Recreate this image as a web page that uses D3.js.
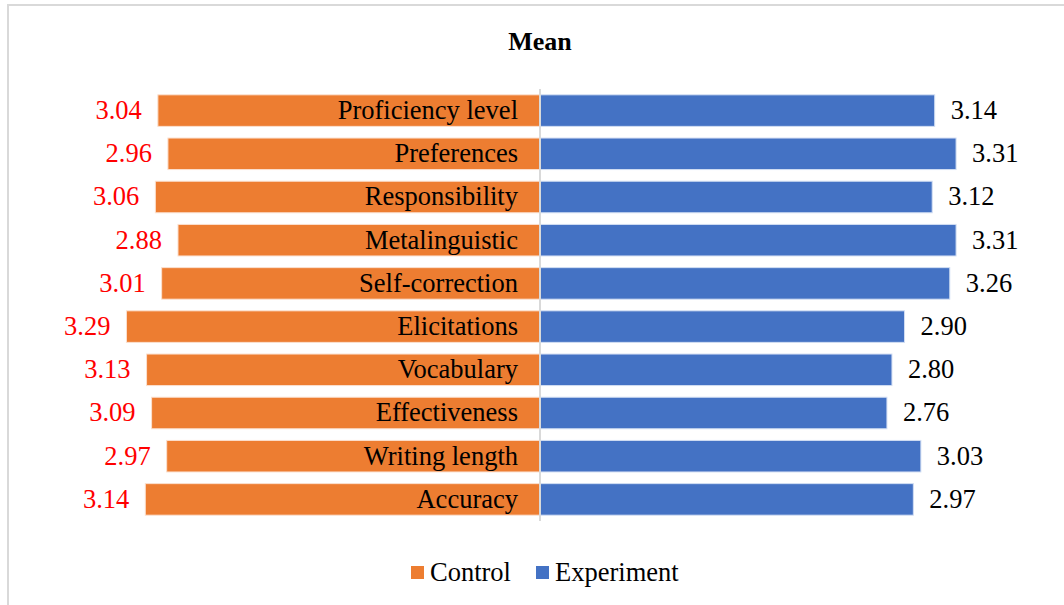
<!DOCTYPE html>
<html>
<head>
<meta charset="utf-8">
<script src="https://cdn.jsdelivr.net/npm/d3@7"></script>
<style>
  body { margin: 0; background: #fff; }
</style>
</head>
<body>
<div id="chart"></div>
<script>
const categories = ['Proficiency level', 'Preferences', 'Responsibility', 'Metalinguistic',
    'Self-correction', 'Elicitations', 'Vocabulary', 'Effectiveness', 'Writing length', 'Accuracy'];
const control = [3.04, 2.96, 3.06, 2.88, 3.01, 3.29, 3.13, 3.09, 2.97, 3.14];
const experiment = [3.14, 3.31, 3.12, 3.31, 3.26, 2.90, 2.80, 2.76, 3.03, 2.97];
const seriesNames = ['Control', 'Experiment'];
const colors = ['#ED7D31', '#4472C4'];

const width = 1064, height = 605;
const centerX = 540;
const pxPerUnit = 125.7;
const serif = "'Liberation Serif', 'Times New Roman', Times, serif";
const fontSize = 26.5;

const svg = d3.select('#chart')
    .append('svg')
    .attr('width', width)
    .attr('height', height)
    .attr('font-family', serif);

// chart frame
svg.append('rect')
    .attr('x', 8).attr('y', 5)
    .attr('width', width).attr('height', height)
    .attr('fill', 'none')
    .attr('stroke', '#d9d9d9')
    .attr('stroke-width', 2);

// title
svg.append('text')
    .attr('x', centerX)
    .attr('y', 50)
    .attr('text-anchor', 'middle')
    .attr('font-size', 26)
    .attr('font-weight', 'bold')
    .text('Mean');

// scales
const y = d3.scaleBand()
    .domain(categories)
    .range([89, 521])
    .paddingInner(0.27)
    .paddingOuter(0.135);

const xRight = d3.scaleLinear()
    .domain([0, 1])
    .range([centerX, centerX + pxPerUnit]);
const xLeft = d3.scaleLinear()
    .domain([0, 1])
    .range([centerX, centerX - pxPerUnit]);

const rows = categories.map((c, i) => ({ cat: c, ctrl: control[i], exp: experiment[i] }));

// control bars (left)
svg.selectAll('.bar-ctrl')
    .data(rows)
    .join('rect')
    .attr('class', 'bar-ctrl')
    .attr('x', d => xLeft(d.ctrl))
    .attr('y', d => y(d.cat))
    .attr('width', d => centerX - xLeft(d.ctrl))
    .attr('height', y.bandwidth())
    .attr('fill', colors[0])
    .attr('stroke', '#fbe0cf')
    .attr('stroke-width', 1);

// experiment bars (right)
svg.selectAll('.bar-exp')
    .data(rows)
    .join('rect')
    .attr('class', 'bar-exp')
    .attr('x', centerX)
    .attr('y', d => y(d.cat))
    .attr('width', d => xRight(d.exp) - centerX)
    .attr('height', y.bandwidth())
    .attr('fill', colors[1])
    .attr('stroke', '#d2def3')
    .attr('stroke-width', 1);

// center axis line
svg.append('line')
    .attr('x1', centerX).attr('x2', centerX)
    .attr('y1', 89).attr('y2', 521)
    .attr('stroke', '#d9d9d9')
    .attr('stroke-width', 2);

// category labels
svg.selectAll('.cat-label')
    .data(rows)
    .join('text')
    .attr('class', 'cat-label')
    .attr('x', centerX - 22)
    .attr('y', d => y(d.cat) + y.bandwidth() / 2)
    .attr('dy', '0.32em')
    .attr('text-anchor', 'end')
    .attr('font-size', fontSize)
    .attr('fill', '#000')
    .text(d => d.cat);

// value labels
svg.selectAll('.ctrl-label')
    .data(rows)
    .join('text')
    .attr('class', 'ctrl-label')
    .attr('x', d => xLeft(d.ctrl) - 16)
    .attr('y', d => y(d.cat) + y.bandwidth() / 2)
    .attr('dy', '0.32em')
    .attr('text-anchor', 'end')
    .attr('font-size', fontSize)
    .attr('fill', '#ff0000')
    .text(d => d.ctrl.toFixed(2));

svg.selectAll('.exp-label')
    .data(rows)
    .join('text')
    .attr('class', 'exp-label')
    .attr('x', d => xRight(d.exp) + 16)
    .attr('y', d => y(d.cat) + y.bandwidth() / 2)
    .attr('dy', '0.32em')
    .attr('font-size', fontSize)
    .attr('fill', '#000')
    .text(d => d.exp.toFixed(2));

// legend
const legendX = [411, 536];
const legend = svg.selectAll('.legend')
    .data(seriesNames)
    .join('g')
    .attr('class', 'legend')
    .attr('transform', (d, i) => `translate(${legendX[i]},566)`);

legend.append('rect')
    .attr('width', 13).attr('height', 13)
    .attr('fill', (d, i) => colors[i]);

legend.append('text')
    .attr('x', 19)
    .attr('y', 6.5)
    .attr('dy', '0.32em')
    .attr('font-size', fontSize)
    .attr('fill', '#000')
    .text(d => d);
</script>
</body>
</html>
